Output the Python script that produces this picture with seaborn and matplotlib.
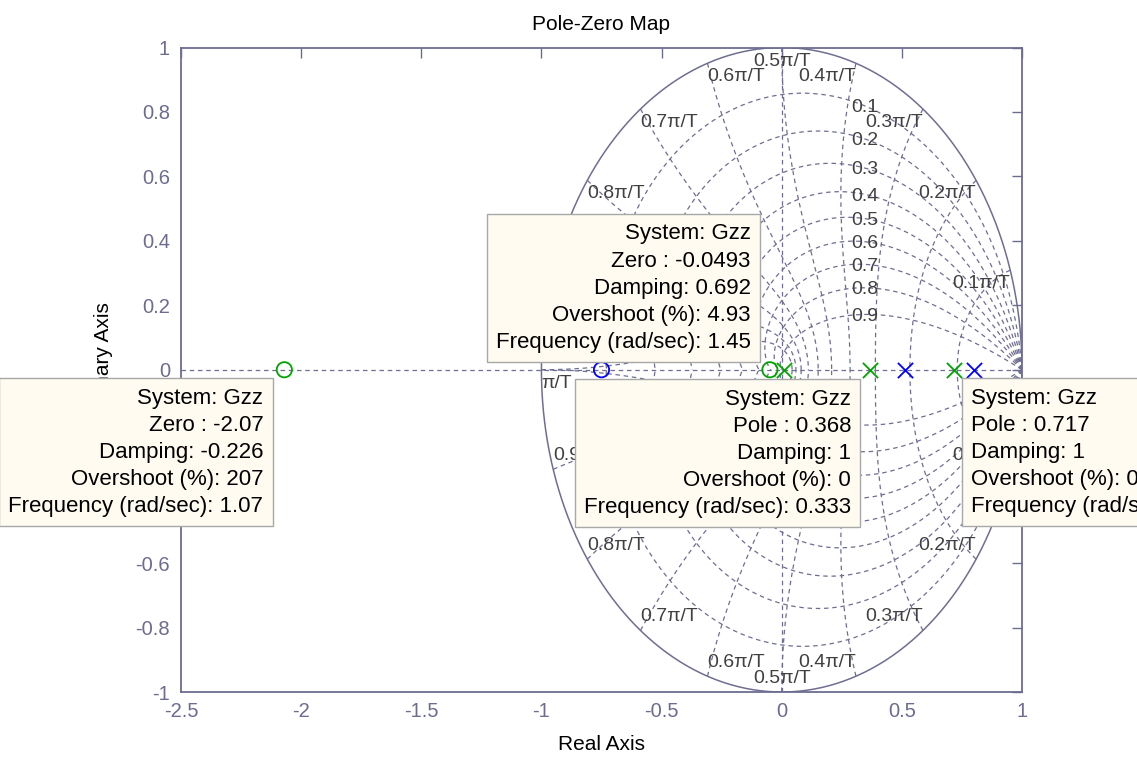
import numpy as np
import pandas as pd
import matplotlib
matplotlib.use("Agg")
import matplotlib.pyplot as plt
import seaborn as sns

# ---------------- data ----------------
title_text = "Pole-Zero Map"
x_label = "Real Axis"
y_label = "Imaginary Axis"

x_ticks = [-2.5, -2.0, -1.5, -1.0, -0.5, 0.0, 0.5, 1.0]
x_ticklabels = ["-2.5", "-2", "-1.5", "-1", "-0.5", "0", "0.5", "1"]
y_ticks = [-1.0, -0.8, -0.6, -0.4, -0.2, 0.0, 0.2, 0.4, 0.6, 0.8, 1.0]
y_ticklabels = ["-1", "-0.8", "-0.6", "-0.4", "-0.2", "0", "0.2", "0.4", "0.6", "0.8", "1"]

green_zeros = [-2.07, -0.0493]
green_poles = [0.01, 0.368, 0.717]
blue_zeros = [-0.75]
blue_poles = [0.513, 0.8]

zeta_values = [0.1, 0.2, 0.3, 0.4, 0.5, 0.6, 0.7, 0.8, 0.9]
zeta_labels = ["0.1", "0.2", "0.3", "0.4", "0.5", "0.6", "0.7", "0.8", "0.9"]
wn_fractions = [0.1, 0.2, 0.3, 0.4, 0.5, 0.6, 0.7, 0.8, 0.9, 1.0]
wn_labels = ["0.1π/T", "0.2π/T", "0.3π/T", "0.4π/T", "0.5π/T",
             "0.6π/T", "0.7π/T", "0.8π/T", "0.9π/T", "π/T"]

tip_points = [-2.07, -0.0493, 0.368, 0.717]
tip_texts = [
    ["System: Gzz", "Zero : -2.07", "Damping: -0.226", "Overshoot (%): 207", "Frequency (rad/sec): 1.07"],
    ["System: Gzz", "Zero : -0.0493", "Damping: 0.692", "Overshoot (%): 4.93", "Frequency (rad/sec): 1.45"],
    ["System: Gzz", "Pole : 0.368", "Damping: 1", "Overshoot (%): 0", "Frequency (rad/sec): 0.333"],
    ["System: Gzz", "Pole : 0.717", "Damping: 1", "Overshoot (%): 0", "Frequency (rad/sec): 0.111"],
]
# (text offsets of each datatip from its marker, pixels) and alignment
tip_layout = [
    ((-21, -18), "right", "top"),
    ((-19, 17), "right", "bottom"),
    ((-19, -19), "right", "top"),
    ((17, -18), "left", "top"),
]

# ---------------- style ----------------
sns.set_theme(style="white")
plt.rcParams["font.family"] = ["Liberation Sans", "DejaVu Sans"]

axis_color = "#6c6c90"
grid_color = "#6e6e92"
label_color = "#404040"
green = "#00a400"
blue = "#0000ff"
dash = (0, (3.6, 3.0))

fig = plt.figure(figsize=(11.37, 7.58), dpi=100)
fig.patch.set_facecolor("white")
ax = fig.add_axes([181 / 1137, 1 - 692 / 758, (1022 - 181) / 1137, (692 - 47.5) / 758])
ax.set_facecolor("white")

# ---------------- z-plane grid (zgrid) ----------------
th = np.linspace(0, np.pi, 300)
circle = np.exp(1j * np.linspace(0, 2 * np.pi, 600))
ax.plot(circle.real, circle.imag, color=grid_color, lw=1.1, zorder=1)

for z_ in zeta_values:
    m = np.tan(np.arcsin(z_))
    zz = np.exp(th * (-m + 1j))
    ax.plot(zz.real, zz.imag, color=grid_color, lw=0.9, ls=dash, zorder=1)
    ax.plot(zz.real, -zz.imag, color=grid_color, lw=0.9, ls=dash, zorder=1)

phi = np.linspace(np.pi / 2, np.pi, 200)
for f in wn_fractions:
    wn = f * np.pi
    zw = np.exp(wn * np.exp(1j * phi))
    ax.plot(zw.real, zw.imag, color=grid_color, lw=0.9, ls=dash, zorder=1)
    ax.plot(zw.real, -zw.imag, color=grid_color, lw=0.9, ls=dash, zorder=1)

# real and imaginary axis lines
ax.plot([-2.5, 1.0], [0, 0], color=grid_color, lw=0.9, ls=dash, zorder=1)
ax.plot([0, 0], [-1.0, 1.0], color=grid_color, lw=0.9, ls=dash, zorder=1)

# damping labels (upper half)
for z_, lab in zip(zeta_values, zeta_labels):
    m = np.tan(np.arcsin(z_))
    tt = np.linspace(0.01, np.pi / 2, 2000)
    zz = np.exp(tt * (-m + 1j))
    k = np.argmin(np.abs(zz.real - 0.345))
    ax.annotate(lab, xy=(zz[k].real, zz[k].imag), xytext=(0, -2), textcoords="offset pixels",
                ha="center", va="center", fontsize=14, color=label_color, zorder=2)

# natural frequency labels
for f, lab in zip(wn_fractions, wn_labels):
    p = np.exp(1j * f * np.pi)
    ha = "right" if f < 0.5 else ("center" if f == 0.5 else "left")
    ax.annotate(lab, xy=(p.real, p.imag), xytext=(0, -5), textcoords="offset pixels",
                ha=ha, va="top", fontsize=14, color=label_color, zorder=2)
    if f < 1.0:
        ax.annotate(lab, xy=(p.real, -p.imag), xytext=(0, 5), textcoords="offset pixels",
                    ha=ha, va="bottom", fontsize=14, color=label_color, zorder=2)

# ---------------- poles and zeros ----------------
df_gz = pd.DataFrame({"re": green_zeros, "im": [0.0] * len(green_zeros)})
df_gp = pd.DataFrame({"re": green_poles, "im": [0.0] * len(green_poles)})
df_bz = pd.DataFrame({"re": blue_zeros, "im": [0.0] * len(blue_zeros)})
df_bp = pd.DataFrame({"re": blue_poles, "im": [0.0] * len(blue_poles)})

sns.scatterplot(data=df_gz, x="re", y="im", marker="o", s=120, facecolors="none",
                edgecolor=green, linewidth=1.3, ax=ax, zorder=5)
sns.scatterplot(data=df_bz, x="re", y="im", marker="o", s=120, facecolors="none",
                edgecolor=blue, linewidth=1.3, ax=ax, zorder=5)
sns.scatterplot(data=df_gp, x="re", y="im", marker="x", s=120, color=green,
                linewidth=1.3, ax=ax, zorder=5)
sns.scatterplot(data=df_bp, x="re", y="im", marker="x", s=120, color=blue,
                linewidth=1.3, ax=ax, zorder=5)

# ---------------- datatips ----------------
for xp, lines, (off, ha, va) in zip(tip_points, tip_texts, tip_layout):
    ax.annotate("\n".join(lines), xy=(xp, 0), xytext=off, textcoords="offset pixels",
                ha=ha, va=va, multialignment=ha, fontsize=16, color="black",
                linespacing=1.38, annotation_clip=False, zorder=10,
                bbox=dict(boxstyle="square,pad=0.42", fc="#fffbf0", ec="#a8a8a8", lw=1.0))

# ---------------- axes cosmetics ----------------
ax.set_xlim(-2.5, 1.0)
ax.set_ylim(-1.0, 1.0)
ax.set_xticks(x_ticks)
ax.set_xticklabels(x_ticklabels)
ax.set_yticks(y_ticks)
ax.set_yticklabels(y_ticklabels)
ax.tick_params(direction="in", top=True, right=True, length=7, width=1.0,
               colors=axis_color, labelsize=14.5)
ax.tick_params(axis="x", pad=7.5)
ax.tick_params(axis="y", pad=8)
for sp in ax.spines.values():
    sp.set_color(axis_color)
    sp.set_linewidth(1.3)
    sp.set_visible(True)

ax.set_title(title_text, fontsize=15, color="black", pad=12.5)
ax.set_xlabel(x_label, fontsize=15, color="black")
ax.set_ylabel(y_label, fontsize=15, color="black")
ax.xaxis.set_label_coords(0.5, -0.066)
ax.yaxis.set_label_coords(-0.081, 0.5)

fig.savefig("out.png", dpi=100, facecolor="white")
